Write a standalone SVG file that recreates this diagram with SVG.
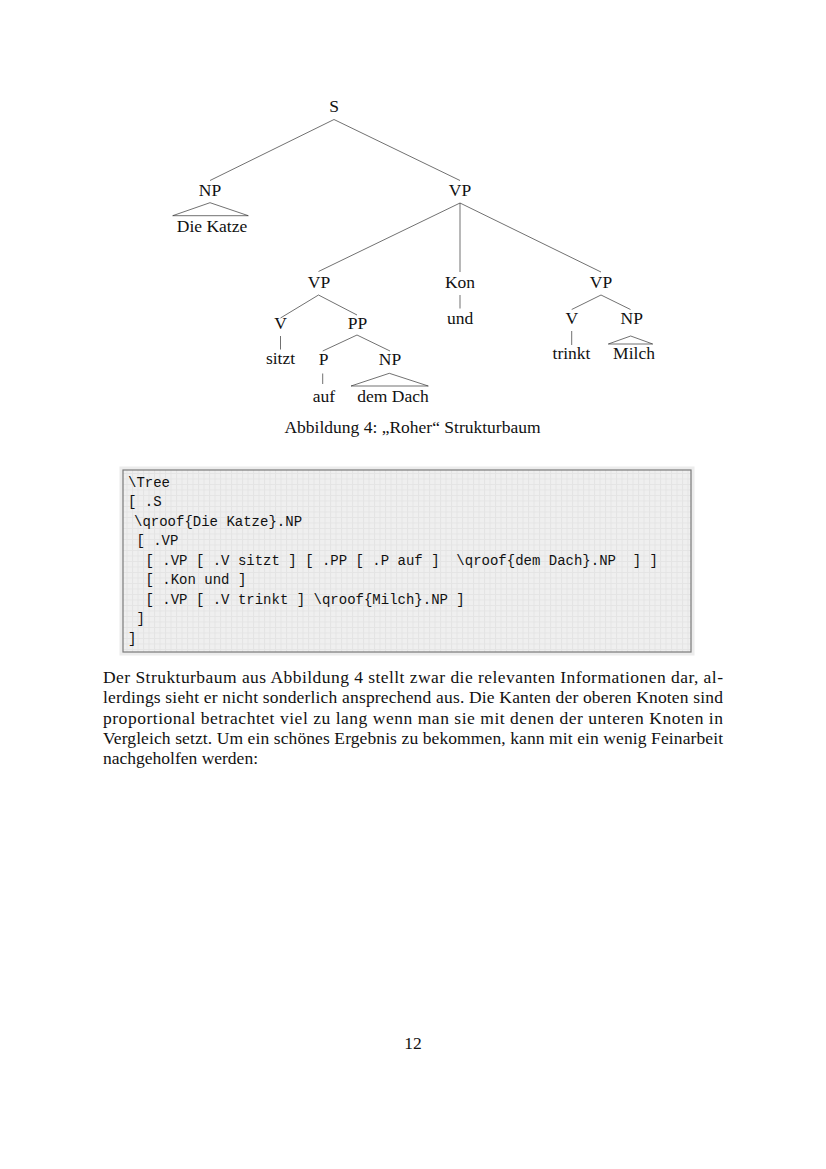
<svg xmlns="http://www.w3.org/2000/svg" width="826" height="1169" viewBox="0 0 826 1169">
<style>
.t{font-family:"Liberation Serif","Times New Roman",serif;font-size:17.5px;fill:#111;text-anchor:middle}
.b{font-family:"Liberation Serif","Times New Roman",serif;font-size:17.5px;fill:#111}
.m{font-family:"Liberation Mono","Courier New",monospace;font-size:14px;fill:#111;white-space:pre}
.e{stroke:#333;stroke-width:0.7;fill:none}
</style>
<defs>
<pattern id="grid" x="0" y="0" width="5.5" height="5.5" patternUnits="userSpaceOnUse">
<rect width="5.5" height="5.5" fill="#efefef"/>
<path d="M0 0.5H5.5M0.5 0V5.5" stroke="#e4e4e4" stroke-width="1"/>
</pattern>
</defs>
<rect width="826" height="1169" fill="#fff"/>

<g id="connectors">
<path class="e" d="M334 119.5L210 180.5M334 119.5L460 180.5"/>
<path class="e" d="M460 203L318.5 271.5M460 203V272M460 203L601 272"/>
<path class="e" d="M318.5 295L280.5 318M318.5 295L357 315"/>
<path class="e" d="M280.5 336V349.5"/>
<path class="e" d="M357 335L322.7 351M357 335L390 351"/>
<path class="e" d="M322.7 373.5V384"/>
<path class="e" d="M460 295V308.5"/>
<path class="e" d="M601 295L571.7 309.5M601 295L630.5 309.5"/>
<path class="e" d="M571.7 331V345"/>
</g>

<g id="node-S"><text class="t" x="334" y="112">S</text></g>
<g id="node-NP1"><text class="t" x="210" y="196">NP</text>
<path class="e" d="M172.7 215.7L210 202.7L248.3 215.7Z"/>
<text class="t" x="212" y="231.5">Die Katze</text></g>
<g id="node-VP1"><text class="t" x="460" y="196">VP</text></g>
<g id="node-VP2"><text class="t" x="319" y="288">VP</text></g>
<g id="node-Kon"><text class="t" x="460" y="288">Kon</text></g>
<g id="node-und"><text class="t" x="460" y="323.5">und</text></g>
<g id="node-VP3"><text class="t" x="601" y="288">VP</text></g>
<g id="node-V1"><text class="t" x="280.5" y="328.5">V</text></g>
<g id="node-sitzt"><text class="t" x="280.5" y="363.5">sitzt</text></g>
<g id="node-PP"><text class="t" x="357.5" y="328.5">PP</text></g>
<g id="node-P"><text class="t" x="323.5" y="365">P</text></g>
<g id="node-auf"><text class="t" x="324" y="401.5">auf</text></g>
<g id="node-NP2"><text class="t" x="390" y="365">NP</text>
<path class="e" d="M351 386L389.3 373.3L428.3 386Z"/>
<text class="t" x="393" y="401.5">dem Dach</text></g>
<g id="node-V2"><text class="t" x="571.7" y="324">V</text></g>
<g id="node-trinkt"><text class="t" x="571.5" y="359">trinkt</text></g>
<g id="node-NP3"><text class="t" x="631.7" y="324">NP</text>
<path class="e" d="M608.3 344L630.7 336L652.7 344Z"/>
<text class="t" x="634" y="359">Milch</text></g>

<g id="caption"><text class="t" x="412.5" y="433">Abbildung 4: „Roher“ Strukturbaum</text></g>

<g id="code">
<rect x="119.5" y="466.5" width="575" height="189" fill="#ececec"/>
<rect x="123" y="470" width="568" height="182" fill="url(#grid)" stroke="#7a7a7a" stroke-width="1.2"/>
<text class="m" x="128" y="486.5">\Tree</text>
<text class="m" x="128" y="506">[ .S</text>
<text class="m" x="134" y="525.6">\qroof{Die Katze}.NP</text>
<text class="m" x="136.4" y="545.2">[ .VP</text>
<text class="m" x="145.5" y="564.7">[ .VP [ .V sitzt ] [ .PP [ .P auf ]  \qroof{dem Dach}.NP  ] ]</text>
<text class="m" x="145.5" y="584.3">[ .Kon und ]</text>
<text class="m" x="145.5" y="603.9">[ .VP [ .V trinkt ] \qroof{Milch}.NP ]</text>
<text class="m" x="136.4" y="623.4">]</text>
<text class="m" x="128" y="643">]</text>
</g>

<g id="paragraph">
<text class="b" x="103" y="683" textLength="620" lengthAdjust="spacing">Der Strukturbaum aus Abbildung 4 stellt zwar die relevanten Informationen dar, al-</text>
<text class="b" x="103" y="703.3" textLength="620" lengthAdjust="spacing">lerdings sieht er nicht sonderlich ansprechend aus. Die Kanten der oberen Knoten sind</text>
<text class="b" x="103" y="723.5" textLength="620" lengthAdjust="spacing">proportional betrachtet viel zu lang wenn man sie mit denen der unteren Knoten in</text>
<text class="b" x="103" y="743.8" textLength="620" lengthAdjust="spacing">Vergleich setzt. Um ein schönes Ergebnis zu bekommen, kann mit ein wenig Feinarbeit</text>
<text class="b" x="103" y="764">nachgeholfen werden:</text>
</g>

<g id="page-number"><text class="t" x="413" y="1049">12</text></g>
</svg>
